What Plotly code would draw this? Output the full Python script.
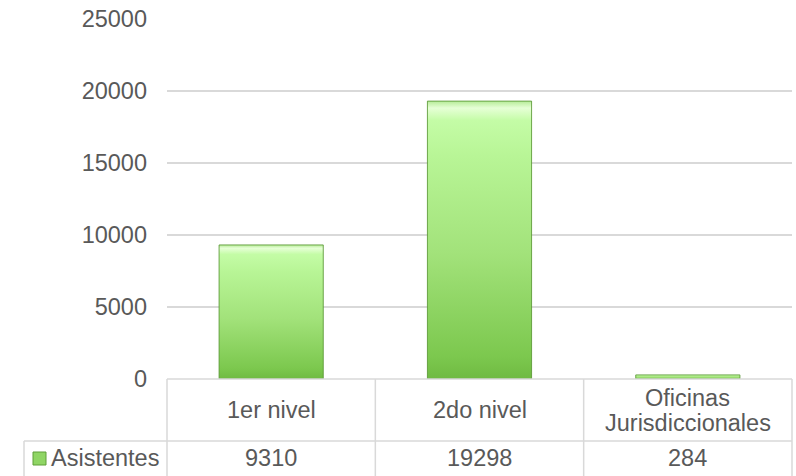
import plotly.graph_objects as go

# Data
categories = ["1er nivel", "2do nivel", "Oficinas\nJurisdiccionales"]
asistentes = [9310, 19298, 284]
series_name = "Asistentes"
y_ticks = [0, 5000, 10000, 15000, 20000, 25000]

FONT = "Liberation Sans, Arial, sans-serif"
TXT = "#595959"
GRID = "#d9d9d9"
FS = 23.5

# Green bevel-like vertical gradient (bottom -> top)
bar_scale = [
    [0.0, "#6fba42"],
    [0.08, "#7cc84e"],
    [0.45, "#a2e27a"],
    [0.80, "#b8f596"],
    [0.93, "#c4fca6"],
    [0.975, "#e6ffd6"],
    [1.0, "#b6ec98"],
]

fig = go.Figure()

n = len(categories)
half_w = 0.25
for i, v in enumerate(asistentes):
    fig.add_trace(go.Scatter(
        x=[i - half_w, i - half_w, i + half_w, i + half_w, i - half_w],
        y=[0, v, v, 0, 0],
        mode="lines",
        fill="toself",
        fillgradient=dict(type="vertical", colorscale=bar_scale),
        line=dict(color="rgba(88,150,50,0.85)", width=1),
        name=series_name,
        showlegend=False,
        hoverinfo="skip",
    ))

fig.update_layout(
    width=796, height=476,
    margin=dict(l=167, r=4, t=19, b=97),
    paper_bgcolor="white", plot_bgcolor="white",
    font=dict(family=FONT, color=TXT, size=FS),
    showlegend=False,
    xaxis=dict(range=[-0.5, n - 0.5], showticklabels=False, showgrid=False,
               zeroline=False, showline=False, fixedrange=True),
    yaxis=dict(range=[0, y_ticks[-1]], tickvals=y_ticks, tickformat="d",
               showgrid=True, gridcolor=GRID, gridwidth=1.5, zeroline=False,
               showline=False, ticks="", ticklabelstandoff=19,
               tickfont=dict(family=FONT, color=TXT, size=FS)),
)

# Data table geometry (paper coordinates below the plot area)
plot_h = 476 - 19 - 97
plot_w = 796 - 167 - 4
def py(px):
    return (379 - px) / plot_h
def pxx(px):
    return (px - 167) / plot_w

row_sep = py(441)
tbl_bot = py(477)
left_x = pxx(24)
shapes = []
line_style = dict(color=GRID, width=1.5)
# top edge of table
shapes.append(dict(type="line", xref="paper", yref="paper", x0=0, x1=1, y0=0, y1=0, line=line_style))
# row separator
shapes.append(dict(type="line", xref="paper", yref="paper", x0=left_x, x1=1, y0=row_sep, y1=row_sep, line=line_style))
# bottom edge
shapes.append(dict(type="line", xref="paper", yref="paper", x0=left_x, x1=1, y0=tbl_bot, y1=tbl_bot, line=line_style))
# column separators
for k in range(n + 1):
    shapes.append(dict(type="line", xref="paper", yref="paper", x0=k / n, x1=k / n,
                       y0=0, y1=tbl_bot, line=line_style))
shapes.append(dict(type="line", xref="paper", yref="paper", x0=left_x, x1=left_x,
                   y0=row_sep, y1=tbl_bot, line=line_style))
# legend key square
shapes.append(dict(type="rect", xref="paper", yref="paper",
                   x0=pxx(33), x1=pxx(46), y0=py(465), y1=py(452),
                   fillcolor="#8fd564", line=dict(color="#5f9f38", width=1)))

annotations = []
row1_c = py(410.5)
row2_c = py(458.5)
line_gap = 25 / plot_h
for i, (cat, v) in enumerate(zip(categories, asistentes)):
    xc = (i + 0.5) / n
    lines = cat.split("\n")
    m = len(lines)
    for j, t in enumerate(lines):
        yc = row1_c + ((m - 1) / 2 - j) * line_gap
        annotations.append(dict(text=t, xref="paper", yref="paper", x=xc, y=yc,
                                xanchor="center", yanchor="middle", showarrow=False,
                                font=dict(family=FONT, color=TXT, size=FS)))
    annotations.append(dict(text=str(v), xref="paper", yref="paper", x=xc, y=row2_c,
                            xanchor="center", yanchor="middle", showarrow=False,
                            font=dict(family=FONT, color=TXT, size=FS)))
annotations.append(dict(text=series_name, xref="paper", yref="paper", x=pxx(49), y=row2_c,
                        xanchor="left", yanchor="middle", showarrow=False,
                        font=dict(family=FONT, color=TXT, size=FS)))

fig.update_layout(shapes=shapes, annotations=annotations)

fig.write_html("out.html")
